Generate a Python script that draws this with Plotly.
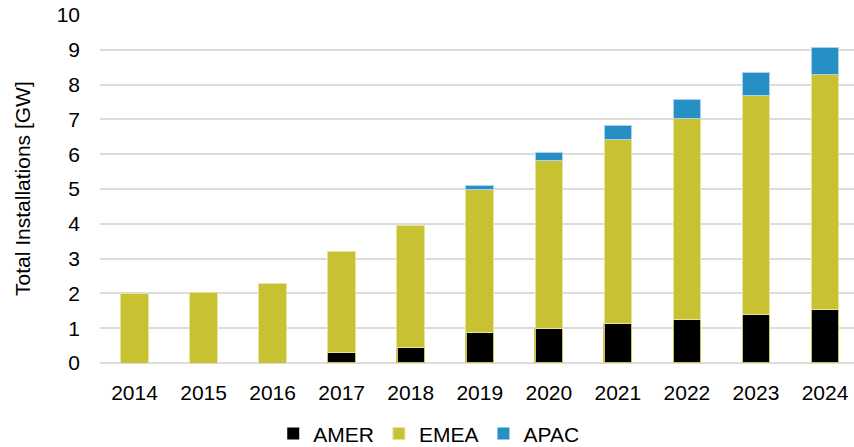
import plotly.graph_objects as go

years = ["2014", "2015", "2016", "2017", "2018", "2019", "2020", "2021", "2022", "2023", "2024"]
amer = [0, 0, 0, 0.31, 0.44, 0.89, 1.00, 1.14, 1.26, 1.40, 1.54]
emea = [2.01, 2.04, 2.29, 2.88, 3.51, 4.11, 4.81, 5.29, 5.78, 6.28, 6.76]
apac = [0, 0, 0, 0, 0, 0.11, 0.25, 0.39, 0.54, 0.66, 0.76]
y_ticks = [0, 1, 2, 3, 4, 5, 6, 7, 8, 9, 10]

FONT = "Liberation Sans, Arial, Helvetica, sans-serif"


def edge(values, w):
    return [w if v > 0 else 0 for v in values]


fig = go.Figure()
fig.add_bar(x=years, y=amer, name="AMER",
            marker=dict(color="#000000", line=dict(color="#C9C454", width=edge(amer, 1.2))))
fig.add_bar(x=years, y=emea, name="EMEA",
            marker=dict(color="#C8C232", line=dict(color="#E6E39A", width=edge(emea, 1))))
fig.add_bar(x=years, y=apac, name="APAC",
            marker=dict(color="#2690C5", line=dict(color="#A9D3EA", width=edge(apac, 1))))

fig.update_layout(
    barmode="stack",
    bargap=0.6,
    width=854, height=447,
    margin=dict(l=100, r=0, t=15, b=84, autoexpand=False),
    plot_bgcolor="white", paper_bgcolor="white",
    font=dict(family=FONT, size=21, color="#000000"),
    legend=dict(orientation="h", x=0.436, xanchor="center", y=-0.145, yanchor="top",
                font=dict(size=21), itemwidth=30, traceorder="normal", tracegroupgap=0),
    showlegend=True,
    annotations=[dict(text="Total Installations [GW]", textangle=-90, showarrow=False,
                      xref="paper", yref="paper", x=(22 - 100) / 754, y=0.5,
                      xanchor="center", yanchor="middle", font=dict(size=21))],
)
fig.update_xaxes(type="category", range=[-0.5, 10.42], showgrid=False, showline=False,
                 ticks="", tickfont=dict(size=21), zeroline=False, automargin=False,
                 ticklabelstandoff=15)
fig.update_yaxes(range=[0, 10], tickvals=y_ticks, showgrid=True, gridcolor="#DCDCDC",
                 gridwidth=1.5, zeroline=True, zerolinecolor="#DCDCDC", zerolinewidth=1.5,
                 ticks="", ticklabelstandoff=19, tickfont=dict(size=21), automargin=False)

fig.write_html("out.html", config={"displayModeBar": False},
               post_script="document.body.style.margin='0px';document.body.style.overflow='hidden';")
